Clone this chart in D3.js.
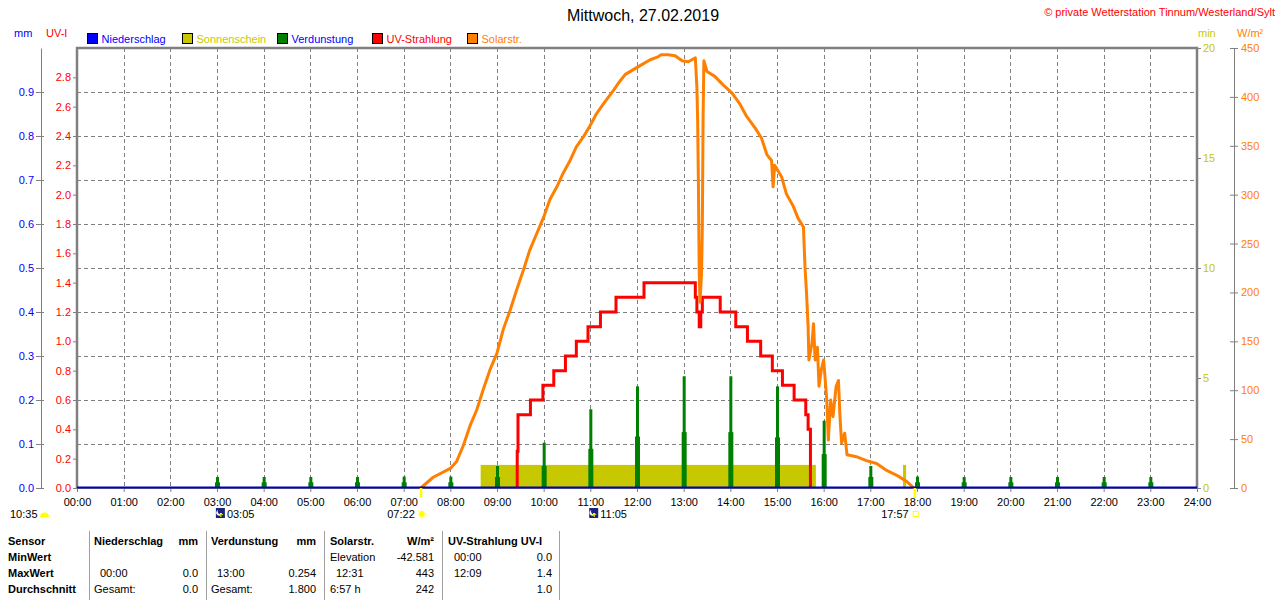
<!DOCTYPE html>
<html>
<head>
<meta charset="utf-8">
<script src="https://d3js.org/d3.v7.min.js"></script>
<style>
  body { margin: 0; background: #fff; }
  svg { display: block; }
</style>
</head>
<body>
<script>
// ---- values ----
const hourLabels = ["00:00","01:00","02:00","03:00","04:00","05:00","06:00","07:00","08:00","09:00","10:00","11:00","12:00",
                    "13:00","14:00","15:00","16:00","17:00","18:00","19:00","20:00","21:00","22:00","23:00","24:00"];
const mmTicks  = [0, 0.1, 0.2, 0.3, 0.4, 0.5, 0.6, 0.7, 0.8, 0.9];
const uvTicks  = [0, 0.2, 0.4, 0.6, 0.8, 1.0, 1.2, 1.4, 1.6, 1.8, 2.0, 2.2, 2.4, 2.6, 2.8];
const minTicks = [0, 5, 10, 15, 20];
const solTicks = [0, 50, 100, 150, 200, 250, 300, 350, 400, 450];

const legendNames = ["Niederschlag", "Sonnenschein", "Verdunstung", "UV-Strahlung", "Solarstr."];

// Niederschlag (mm)
const rainTimes  = ["00:00", "24:00"];
const rainValues = [0, 0];

// Sonnenschein (min)
const sunFrom    = ["08:39", "17:42"];
const sunTo      = ["15:50", "17:46"];
const sunMinutes = [1.05, 1.05];

// Verdunstung (mm), one bar per hour
const evapHours = ["03:00","04:00","05:00","06:00","07:00","08:00","09:00","10:00","11:00","12:00","13:00",
                   "14:00","15:00","16:00","17:00","18:00","19:00","20:00","21:00","22:00","23:00"];
const evapTop = [0.025,0.025,0.025,0.025,0.026,0.026,0.05,0.103,0.179,0.231,0.254,
                 0.254,0.231,0.153,0.05,0.026,0.025,0.025,0.025,0.025,0.025];
const evapLow = [0.013,0.013,0.013,0.013,0.013,0.013,0.025,0.05,0.089,0.117,0.127,
                 0.127,0.115,0.077,0.025,0.013,0.013,0.013,0.013,0.013,0.013];

// UV-Strahlung (UV-I), steps (zero elsewhere)
const uvTimes  = ["09:26","09:26","09:27","09:43","09:59","10:13","10:28","10:42","10:57","11:13","11:33","12:09",
                  "13:15","13:17","13:20","13:22","13:24","13:47","14:07","14:22","14:39","14:54","15:07","15:22",
                  "15:37","15:40","15:43"];
const uvValues = [0,0.25,0.5,0.6,0.7,0.8,0.9,1.0,1.1,1.2,1.3,1.4,
                  1.3,1.2,1.1,1.2,1.3,1.2,1.1,1.0,0.9,0.8,0.7,0.6,
                  0.5,0.4,0];

// Solarstrahlung (W/m²)
const solTimes  = ["07:22","07:38","08:00","08:08","08:17","08:25","08:34","08:42","08:51","09:00","09:08","09:17",
                   "09:25","09:34","09:42","09:51","10:00","10:08","10:17","10:25","10:34","10:42","10:51","11:00",
                   "11:08","11:17","11:30","11:37","11:45","12:04","12:17","12:27","12:31","12:40","12:49","12:58",
                   "13:06","13:15","13:17","13:18","13:19","13:20","13:21","13:23","13:24","13:25","13:26","13:30",
                   "13:40","13:51","14:02","14:12","14:21","14:32","14:40","14:47","14:53","14:55","14:57","15:06",
                   "15:12","15:21","15:27","15:34","15:36","15:38","15:40","15:41","15:45","15:47","15:49","15:52",
                   "15:54","15:57","16:00","16:04","16:06","16:09","16:12","16:16","16:19","16:21","16:23","16:27",
                   "16:30","16:42","16:55","17:08","17:21","17:34","17:47","17:56"];
const solValues = [0,11,20,27,44,63,80,100,121,138,162,182,
                   202,223,243,260,277,295,308,322,335,349,359,371,
                   383,393,407,415,423,432,438,441,443,443,442,437,
                   436,440,410,376,308,220,190,220,267,380,437,426,
                   421,412,404,393,380,368,358,341,335,308,330,318,
                   301,288,276,267,226,199,165,131,148,168,131,144,
                   104,121,131,90,49,90,73,104,110,73,46,56,
                   34,32,28,25,18,13,6.5,0];

// sun / moon times under the axis
const sunRise = "07:22", sunSet = "17:57", dayLength = "10:35";
const moonEvents = ["03:05", "11:05"];

// table
const tableHead = ["Sensor","Niederschlag","mm","Verdunstung","mm","Solarstr.","W/m²","UV-Strahlung UV-I"];
const rowNames  = ["MinWert","MaxWert","Durchschnitt"];
const rainStats = [["",""],["00:00","0.0"],["Gesamt:","0.0"]];
const evapStats = [["",""],["13:00","0.254"],["Gesamt:","1.800"]];
const solStats  = [["Elevation","-42.581"],["12:31","443"],["6:57 h","242"]];
const uvStats   = [["00:00","0.0"],["12:09","1.4"],["","1.0"]];

// ---- drawing ----
const FONT = '"Liberation Sans", Arial, sans-serif';
const GRAY = "#808080";
const C = { rain: "#0000ff", sun: "#c8c800", evap: "#008000", uv: "#ff0000", sol: "#ff8000" };
const legendFill = [C.rain, C.sun, C.evap, C.uv, C.sol];
const legendText = ["#0000ff", "#c8c800", "#0000ff", "#ff0000", "#ff8000"];

const width = 1280, height = 600;
const plot = { left: 77, right: 1197, top: 48, bottom: 488 };

const toMin = s => { const [h, m] = s.split(":").map(Number); return h * 60 + m; };

const svg = d3.select("body").append("svg")
  .attr("width", width).attr("height", height)
  .style("font-family", FONT);

const x     = d3.scaleLinear().domain([0, 1440]).range([plot.left, plot.right]);
const yMM   = d3.scaleLinear().domain([0, 1]).range([plot.bottom, plot.top]);
const yUV   = d3.scaleLinear().domain([0, 3]).range([plot.bottom, plot.top]);
const yMin  = d3.scaleLinear().domain([0, 20]).range([plot.bottom, plot.top]);
const ySol  = d3.scaleLinear().domain([0, 450]).range([plot.bottom, plot.top]);

// title
svg.append("text").attr("x", 643).attr("y", 21).attr("text-anchor", "middle")
  .style("font-size", "16px").text("Mittwoch, 27.02.2019");
svg.append("text").attr("x", 1275).attr("y", 16).attr("text-anchor", "end")
  .style("font-size", "11px").attr("fill", "#ff0000").text("© private Wetterstation Tinnum/Westerland/Sylt");

// unit labels
svg.append("text").attr("x", 14).attr("y", 37).attr("fill", "#0000ff").style("font-size", "11px").text("mm");
svg.append("text").attr("x", 46).attr("y", 37).attr("fill", "#ff0000").style("font-size", "11px").text("UV-I");
svg.append("text").attr("x", 1198).attr("y", 37).attr("fill", "#c8c800").style("font-size", "11px").text("min");
svg.append("text").attr("x", 1237).attr("y", 37).attr("fill", "#ff8000").style("font-size", "11px").text("W/m²");

// legend
legendNames.forEach((name, i) => {
  let g = svg.append("g").attr("transform", `translate(${87.5 + i * 95}, 33.5)`);
  g.append("rect").attr("width", 10).attr("height", 10)
    .attr("fill", legendFill[i]).attr("stroke", "#000");
  g.append("text").attr("x", 14).attr("y", 9).style("font-size", "11px")
    .attr("fill", legendText[i]).text(name);
});

// grid
let grid = svg.append("g").attr("stroke", GRAY).attr("stroke-dasharray", "4,3").attr("stroke-width", 1);
grid.selectAll(".h").data(mmTicks.slice(1)).enter().append("line")
  .attr("x1", plot.left).attr("x2", plot.right)
  .attr("y1", d => Math.round(yMM(d)) + 0.5).attr("y2", d => Math.round(yMM(d)) + 0.5);
grid.selectAll(".v").data(d3.range(60, 1440, 60)).enter().append("line")
  .attr("y1", plot.top).attr("y2", plot.bottom)
  .attr("x1", d => Math.round(x(d)) + 0.5).attr("x2", d => Math.round(x(d)) + 0.5);

function styleAxis(g, color) {
  g.attr("font-family", FONT).attr("font-size", 11);
  g.selectAll(".tick line").attr("stroke", GRAY);
  g.selectAll(".tick text").attr("fill", color);
  g.select(".domain").attr("stroke", GRAY);
}

// mm axis
svg.append("g").attr("transform", "translate(41,0)")
  .call(d3.axisLeft(yMM).tickValues(mmTicks).tickFormat(d3.format(".1f")).tickSizeInner(5).tickSizeOuter(0).tickPadding(2))
  .call(g => styleAxis(g, "#0000ff"))
  .call(g => g.selectAll(".tick line").attr("x2", 3).attr("x1", -5));

// UV axis
svg.append("g").attr("transform", `translate(${plot.left},0)`)
  .call(d3.axisLeft(yUV).tickValues(uvTicks).tickFormat(d3.format(".1f")).tickSizeInner(4).tickSizeOuter(0).tickPadding(2))
  .call(g => styleAxis(g, "#ff0000"))
  .call(g => g.select(".domain").remove());

// min axis
svg.append("g").attr("transform", `translate(${plot.right},0)`)
  .call(d3.axisRight(yMin).tickValues(minTicks).tickSizeInner(4).tickSizeOuter(0).tickPadding(2))
  .call(g => styleAxis(g, "#c8c800"))
  .call(g => g.select(".domain").remove());

// W/m² axis
svg.append("g").attr("transform", "translate(1234,0)")
  .call(d3.axisRight(ySol).tickValues(solTicks).tickSizeInner(4).tickSizeOuter(0).tickPadding(3))
  .call(g => styleAxis(g, "#ff8000"))
  .call(g => g.selectAll(".tick line").attr("x1", -4));

// x axis
svg.append("g").attr("transform", `translate(0,${plot.bottom})`)
  .call(d3.axisBottom(x).tickValues(d3.range(0, 1441, 60)).tickFormat((d, i) => hourLabels[i])
    .tickSizeInner(4).tickSizeOuter(0).tickPadding(6))
  .call(g => styleAxis(g, "#000"));

// frame
svg.append("path")
  .attr("d", `M${plot.left},${plot.bottom}V${plot.top}H${plot.right}V${plot.bottom}`)
  .attr("fill", "none").attr("stroke", GRAY).attr("stroke-width", 2.5);

// sunshine
svg.append("g").selectAll("rect").data(sunFrom).enter().append("rect")
  .attr("x", (d, i) => x(toMin(d)))
  .attr("width", (d, i) => x(toMin(sunTo[i])) - x(toMin(d)))
  .attr("y", (d, i) => yMin(sunMinutes[i]))
  .attr("height", (d, i) => plot.bottom - yMin(sunMinutes[i]))
  .attr("fill", C.sun);

// evaporation bars
let evap = svg.append("g").attr("fill", C.evap);
evap.selectAll(".lo").data(evapHours).enter().append("rect")
  .attr("x", d => x(toMin(d)) - 2).attr("width", 5)
  .attr("y", (d, i) => yMM(evapLow[i])).attr("height", (d, i) => plot.bottom - yMM(evapLow[i]));
evap.selectAll(".hi").data(evapHours).enter().append("rect")
  .attr("x", d => x(toMin(d)) - 1).attr("width", 3)
  .attr("y", (d, i) => yMM(evapTop[i])).attr("height", (d, i) => plot.bottom - yMM(evapTop[i]));

// UV line
const uvLine = d3.line().x(d => x(toMin(d[0]))).y(d => yUV(d[1])).curve(d3.curveStepAfter);
svg.append("path").datum(d3.zip(uvTimes, uvValues))
  .attr("d", uvLine).attr("fill", "none").attr("stroke", C.uv).attr("stroke-width", 3);

// solar line
const solLine = d3.line().x(d => x(toMin(d[0]))).y(d => ySol(d[1]));
svg.append("path").datum(d3.zip(solTimes, solValues))
  .attr("d", solLine).attr("fill", "none").attr("stroke", C.sol).attr("stroke-width", 3)
  .attr("stroke-linejoin", "round");

// rain line
const rainLine = d3.line().x(d => x(toMin(d[0]))).y(d => yMM(d[1]) - 0.5);
svg.append("path").datum(d3.zip(rainTimes, rainValues))
  .attr("d", rainLine).attr("fill", "none").attr("stroke", "#0000c0").attr("stroke-width", 2);

// sunrise / sunset markers
[sunRise, sunSet].forEach(t => {
  svg.append("rect").attr("x", x(toMin(t)) - 1).attr("y", plot.bottom).attr("width", 2.5).attr("height", 10)
    .attr("fill", "#ffff00");
});

// second row below axis
const row2 = 518;
svg.append("text").attr("x", 10).attr("y", row2).style("font-size", "11px").text(dayLength);
svg.append("path").attr("d", "M40,517 a4.5,4.5 0 0 1 9,0 Z").attr("fill", "#ffff00");

function moonIcon(t) {
  let cx = x(toMin(t));
  let g = svg.append("g").attr("transform", `translate(${cx - 5},${508})`);
  g.append("rect").attr("width", 9).attr("height", 10).attr("fill", "#1a237e");
  g.append("path").attr("d", "M2,2 a3,3 0 1 0 4,4 a3,3 0 0 1 -4,-4Z").attr("fill", "#ffffff");
  g.append("path").attr("d", "M5,9 L5,5 L3,7 M5,5 L7,7").attr("stroke", "#ffff00").attr("fill", "none");
  svg.append("text").attr("x", cx + 6).attr("y", row2).style("font-size", "11px").text(t);
}
moonEvents.forEach(moonIcon);

function sunIcon(t, filled) {
  let cx = x(toMin(t));
  let g = svg.append("g").attr("transform", `translate(${cx + 1},${514})`);
  if (filled) {
    g.append("circle").attr("r", 3).attr("fill", "#ffff00");
    g.selectAll("line").data(d3.range(8)).enter().append("line")
      .attr("x1", d => 3.5 * Math.cos(d * Math.PI / 4)).attr("y1", d => 3.5 * Math.sin(d * Math.PI / 4))
      .attr("x2", d => 5 * Math.cos(d * Math.PI / 4)).attr("y2", d => 5 * Math.sin(d * Math.PI / 4))
      .attr("stroke", "#ffff60");
  } else {
    g.append("rect").attr("x", -2.5).attr("y", -2.5).attr("width", 5).attr("height", 5)
      .attr("fill", "none").attr("stroke", "#ffff00");
  }
  svg.append("text").attr("x", cx - 6).attr("y", row2).attr("text-anchor", "end").style("font-size", "11px").text(t);
}
sunIcon(sunRise, true);
sunIcon(sunSet, false);

// table
const rowY = [545, 561, 577, 593];
[89, 206, 324, 442, 559].forEach(sx => {
  svg.append("line").attr("x1", sx + 0.5).attr("x2", sx + 0.5).attr("y1", 531).attr("y2", 600)
    .attr("stroke", "#a0a0a0");
});
const headX = [8, 94, 198, 211, 316, 330, 434, 448];
const headAnchor = ["start", "start", "end", "start", "end", "start", "end", "start"];
tableHead.forEach((h, i) => {
  svg.append("text").attr("x", headX[i]).attr("y", rowY[0]).attr("text-anchor", headAnchor[i])
    .style("font-size", "11px").style("font-weight", "bold").text(h);
});
rowNames.forEach((r, i) => {
  svg.append("text").attr("x", 8).attr("y", rowY[i + 1]).style("font-size", "11px").style("font-weight", "bold").text(r);
});
const blocks = [[rainStats, 94, 198], [evapStats, 211, 316], [solStats, 330, 434], [uvStats, 448, 552]];
blocks.forEach(([stats, lx, rx]) => {
  stats.forEach((s, i) => {
    let indent = /^\d\d:\d\d$/.test(s[0]) ? 6 : 0;
    svg.append("text").attr("x", lx + indent).attr("y", rowY[i + 1]).style("font-size", "11px").text(s[0]);
    svg.append("text").attr("x", rx).attr("y", rowY[i + 1]).attr("text-anchor", "end").style("font-size", "11px").text(s[1]);
  });
});
</script>
</body>
</html>
